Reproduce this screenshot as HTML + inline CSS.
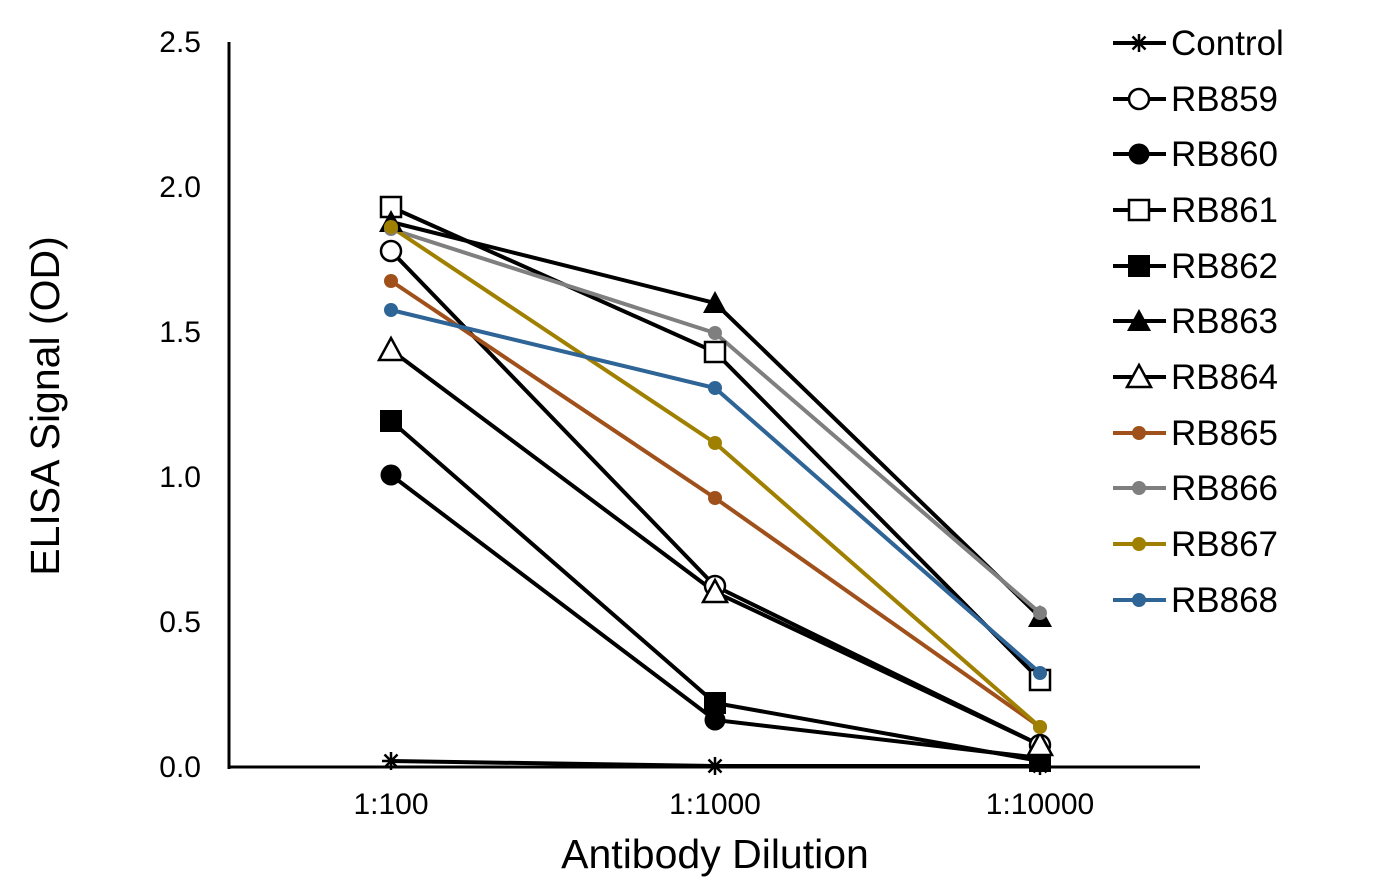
<!DOCTYPE html>
<html><head><meta charset="utf-8"><style>
body{margin:0;background:#fff}
svg text{font-family:"Liberation Sans",Arial,sans-serif}
</style></head><body>
<svg width="1385" height="887" xmlns="http://www.w3.org/2000/svg">
<rect width="1385" height="887" fill="#fff"/>
<g font-size="30" text-anchor="end" fill="#000">
<text x="201" y="777">0.0</text>
<text x="201" y="632">0.5</text>
<text x="201" y="487">1.0</text>
<text x="201" y="342">1.5</text>
<text x="201" y="197">2.0</text>
<text x="201" y="52">2.5</text>
</g>
<g font-size="30" text-anchor="middle">
<text x="391" y="814">1:100</text>
<text x="715" y="814">1:1000</text>
<text x="1040" y="814">1:10000</text>
<text x="715" y="868" font-size="41">Antibody Dilution</text>
<text transform="translate(59,406) rotate(-90)" font-size="41">ELISA Signal (OD)</text>
</g>
<line x1="229" y1="42" x2="229" y2="769" stroke="#000" stroke-width="3"/>
<line x1="228" y1="767" x2="1200" y2="767" stroke="#000" stroke-width="3"/>
<g fill="none" stroke-width="4">
<polyline stroke="#000" points="391,761 715,766 1040,766"/>
<polyline stroke="#000" points="391,251 715,586 1040,745"/>
<polyline stroke="#000" points="391,475 715,720 1040,758"/>
<polyline stroke="#000" points="391,207 715,352 1040,680"/>
<polyline stroke="#000" points="391,421 715,703 1040,761"/>
<polyline stroke="#000" points="391,222 715,303 1040,617"/>
<polyline stroke="#000" points="391,350 715,592 1040,745"/>
<polyline stroke="#a0501a" points="391,281 715,498 1040,727"/>
<polyline stroke="#7f7f7f" points="391,229 715,333 1040,613"/>
<polyline stroke="#a08000" points="391,227 715,443 1040,727"/>
<polyline stroke="#2e6496" points="391,310 715,388 1040,673"/>
</g>
<defs>
<g id="star"><path d="M-9,0H9M0,-9V9M-6.5,-6.5L6.5,6.5M-6.5,6.5L6.5,-6.5" stroke="#000" stroke-width="2.5"/></g>
<circle id="oc" r="10" fill="#fff" stroke="#000" stroke-width="2.5"/>
<circle id="fc" r="10.5" fill="#000"/>
<rect id="os" x="-10" y="-10" width="20" height="20" fill="#fff" stroke="#000" stroke-width="2.5"/>
<rect id="fs" x="-11" y="-11" width="22" height="22" fill="#000"/>
<path id="ft" d="M0,-12L12,10H-12Z" fill="#000"/>
<path id="ot" d="M0,-12L12,10H-12Z" fill="#fff" stroke="#000" stroke-width="2.5"/>
<circle id="or" r="7" fill="#a0501a"/>
<circle id="gr" r="7" fill="#7f7f7f"/>
<circle id="ol" r="7" fill="#a08000"/>
<circle id="bl" r="7" fill="#2e6496"/>
</defs>
<use href="#star" x="391" y="761"/><use href="#star" x="715" y="766"/><use href="#star" x="1040" y="766"/>
<use href="#oc" x="391" y="251"/><use href="#oc" x="715" y="586"/><use href="#oc" x="1040" y="745"/>
<use href="#fc" x="391" y="475"/><use href="#fc" x="715" y="720"/><use href="#fc" x="1040" y="758"/>
<use href="#os" x="391" y="207"/><use href="#os" x="715" y="352"/><use href="#os" x="1040" y="680"/>
<use href="#fs" x="391" y="421"/><use href="#fs" x="715" y="703"/><use href="#fs" x="1040" y="761"/>
<use href="#ft" x="391" y="222"/><use href="#ft" x="715" y="303"/><use href="#ft" x="1040" y="617"/>
<use href="#ot" x="391" y="350"/><use href="#ot" x="715" y="592"/><use href="#ot" x="1040" y="745"/>
<use href="#or" x="391" y="281"/><use href="#or" x="715" y="498"/><use href="#or" x="1040" y="727"/>
<use href="#gr" x="391" y="229"/><use href="#gr" x="715" y="333"/><use href="#gr" x="1040" y="613"/>
<use href="#ol" x="391" y="227"/><use href="#ol" x="715" y="443"/><use href="#ol" x="1040" y="727"/>
<use href="#bl" x="391" y="310"/><use href="#bl" x="715" y="388"/><use href="#bl" x="1040" y="673"/>
<g font-size="35">
<g transform="translate(0,43)"><line x1="1113" x2="1166" stroke="#000" stroke-width="4"/><use href="#star" x="1139"/><text x="1171" y="12">Control</text></g>
<g transform="translate(0,99)"><line x1="1113" x2="1166" stroke="#000" stroke-width="4"/><use href="#oc" x="1139"/><text x="1171" y="12">RB859</text></g>
<g transform="translate(0,154)"><line x1="1113" x2="1166" stroke="#000" stroke-width="4"/><use href="#fc" x="1139"/><text x="1171" y="12">RB860</text></g>
<g transform="translate(0,210)"><line x1="1113" x2="1166" stroke="#000" stroke-width="4"/><use href="#os" x="1139"/><text x="1171" y="12">RB861</text></g>
<g transform="translate(0,266)"><line x1="1113" x2="1166" stroke="#000" stroke-width="4"/><use href="#fs" x="1139"/><text x="1171" y="12">RB862</text></g>
<g transform="translate(0,321)"><line x1="1113" x2="1166" stroke="#000" stroke-width="4"/><use href="#ft" x="1139"/><text x="1171" y="12">RB863</text></g>
<g transform="translate(0,377)"><line x1="1113" x2="1166" stroke="#000" stroke-width="4"/><use href="#ot" x="1139"/><text x="1171" y="12">RB864</text></g>
<g transform="translate(0,433)"><line x1="1113" x2="1166" stroke="#a0501a" stroke-width="4"/><use href="#or" x="1139"/><text x="1171" y="12">RB865</text></g>
<g transform="translate(0,488)"><line x1="1113" x2="1166" stroke="#7f7f7f" stroke-width="4"/><use href="#gr" x="1139"/><text x="1171" y="12">RB866</text></g>
<g transform="translate(0,544)"><line x1="1113" x2="1166" stroke="#a08000" stroke-width="4"/><use href="#ol" x="1139"/><text x="1171" y="12">RB867</text></g>
<g transform="translate(0,600)"><line x1="1113" x2="1166" stroke="#2e6496" stroke-width="4"/><use href="#bl" x="1139"/><text x="1171" y="12">RB868</text></g>
</g>
</svg>
</body></html>
